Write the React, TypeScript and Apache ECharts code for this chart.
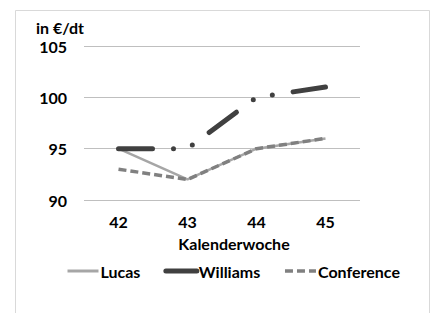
import React, { useEffect, useRef } from "react";
import * as echarts from "echarts";

const weeks = ["42", "43", "44", "45"];
const lucas = [95, 92, 95, 96];
const williams = [95, 95, 100, 101];
const conference = [93, 92, 95, 96];
const yTicks = { min: 90, max: 105, interval: 5 };

const FONT = "Lato, 'Open Sans', sans-serif";

export default function App() {
  const ref = useRef<HTMLDivElement>(null);
  useEffect(() => {
    if (!ref.current) return;
    const chart = echarts.init(ref.current, undefined, { renderer: "svg" });
    const txt = { fontFamily: FONT, fontWeight: "bold" as const, fontSize: 16, color: "#000" };
    chart.setOption({
      animation: false,
      backgroundColor: "#fff",
      graphic: [
        {
          type: "rect",
          shape: { x: 15.5, y: 10.5, width: 414, height: 320 },
          style: { fill: "none", stroke: "#d9d9d9", lineWidth: 1 },
          silent: true,
        },
      ],
      grid: { left: 84, right: 74, top: 46, bottom: 113 },
      legend: {
        left: 61,
        top: 258,
        itemWidth: 31,
        itemHeight: 14,
        itemGap: 23,
        itemStyle: { opacity: 0 },
        textStyle: { ...txt, padding: [0, 0, 0, -3] },
        data: [
          { name: "Lucas", lineStyle: { width: 3, color: "#a6a6a6" } },
          { name: "Williams", lineStyle: { width: 5, color: "#404040", type: "solid", cap: "round" } },
          { name: "Conference", lineStyle: { width: 3.5, color: "#808080", type: [8, 4] } },
        ],
      },
      xAxis: {
        type: "category",
        data: weeks,
        boundaryGap: true,
        axisLine: { show: false },
        axisTick: { show: false },
        axisLabel: { ...txt, margin: 13 },
        name: "Kalenderwoche",
        nameLocation: "middle",
        nameGap: 35,
        nameTextStyle: { ...txt, padding: [0, 0, 0, 24] },
      },
      yAxis: {
        type: "value",
        min: yTicks.min,
        max: yTicks.max,
        interval: yTicks.interval,
        axisLine: { show: false },
        axisTick: { show: false },
        axisLabel: { ...txt, margin: 17, lineHeight: 16 },
        splitLine: { lineStyle: { color: "#bfbfbf", width: 1 } },
        name: "in €/dt",
        nameLocation: "end",
        nameGap: 19,
        nameTextStyle: { ...txt, align: "right", verticalAlign: "middle", lineHeight: 16 },
      },
      series: [
        {
          name: "Lucas",
          type: "line",
          data: lucas,
          symbol: "none",
          color: "#a6a6a6",
          lineStyle: { color: "#a6a6a6", width: 2.5 },
        },
        {
          name: "Williams",
          type: "line",
          data: williams,
          symbol: "none",
          color: "#404040",
          lineStyle: {
            color: "#404040",
            width: 5,
            type: [34, 21, 0, 20, 0, 21],
            cap: "round",
          },
        },
        {
          name: "Conference",
          type: "line",
          data: conference,
          symbol: "none",
          color: "#808080",
          lineStyle: { color: "#808080", width: 3.5, type: [8, 4] },
        },
      ],
    });
    return () => chart.dispose();
  }, []);
  return (
    <div
      ref={ref}
      style={{ position: "fixed", left: 0, top: 0, width: 434, height: 313 }}
    />
  );
}
